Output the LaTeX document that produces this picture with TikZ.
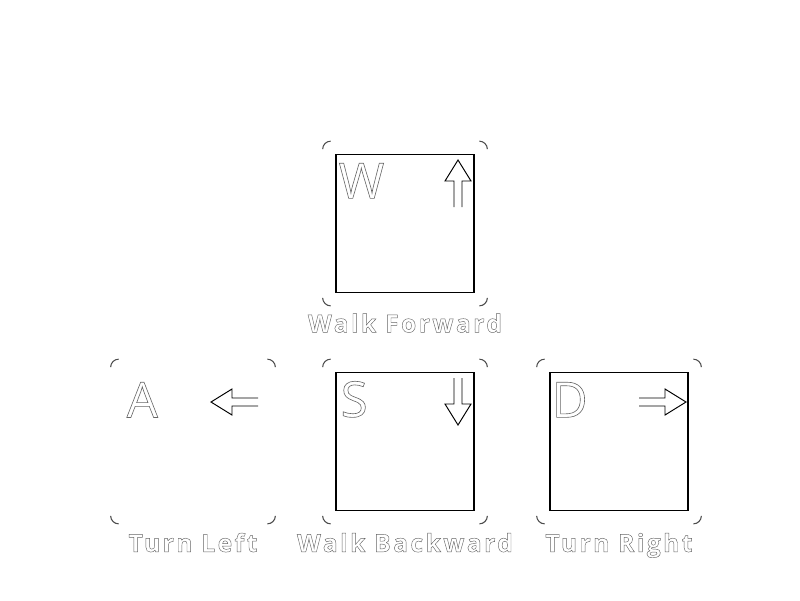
\documentclass[tikz,border=0pt]{standalone}
\usepackage{fontspec}
\setmainfont{Open Sans}
\newfontfamily\labelfont[LetterSpace=10]{Open Sans}
\usetikzlibrary{positioning}

% glyphs drawn as outlines only (text render mode 1)
\newcommand{\outlined}[2][0.35]{\special{pdf:code 1 Tr #1 w}#2\special{pdf:code 0 Tr}}

\tikzset{
    keycap/.style={minimum size=3.28cm, inner sep=0pt},
    keyface/.style={draw, minimum size=2.76cm, inner sep=0pt, line width=0.7pt},
    corner/.style={draw=black!70, line width=0.6pt},
    keyletter/.style={anchor=north west, inner sep=0pt, text=black!60, font=\fontsize{28}{30}\selectfont},
    keytext/.style={anchor=base, inner sep=0pt, text=black!60, font=\labelfont\bfseries\fontsize{14}{16}\selectfont},
    arrowline/.style={draw, line width=0.55pt, line join=miter},
    pics/blockarrow/.style={code={
        \draw[arrowline] (0,-0.08) -- (0.52,-0.08) -- (0.52,-0.26) -- (0.94,0) -- (0.52,0.26) -- (0.52,0.08) -- (0,0.08);
    }}
}

\begin{document}
\begin{tikzpicture}

    \useasboundingbox (0,0) rectangle (16,-12);

    % keys
    \node[keycap] (keyW) at (8.1,-4.47) {};
    \node[keycap] (keyA) at (3.86,-8.83) {};
    \node[keycap] (keyS) at (8.1,-8.83) {};
    \node[keycap] (keyD) at (12.38,-8.83) {};

    \node[keyface] (faceW) at (keyW) {};
    \node[keyface, draw=none] (faceA) at (keyA) {};
    \node[keyface] (faceS) at (keyS) {};
    \node[keyface] (faceD) at (keyD) {};

    % rounded corners of the caps
    \foreach \k in {W,A,S,D} {
        \draw[corner] ([xshift=0.16cm]key\k.north west) arc (90:180:0.16);
        \draw[corner] ([yshift=-0.16cm]key\k.north east) arc (0:90:0.16);
        \draw[corner] ([xshift=-0.16cm]key\k.south east) arc (270:360:0.16);
        \draw[corner] ([yshift=0.16cm]key\k.south west) arc (180:270:0.16);
    }

    % letters
    \node[keyletter] (letterW) at ([shift={(0.06,-0.18)}]faceW.north west) {\outlined{W}};
    \node[keyletter] (letterA) at ([shift={(0.06,-0.2)}]faceA.north west) {\outlined{A}};
    \node[keyletter] (letterS) at ([shift={(0.1,-0.18)}]faceS.north west) {\outlined{S}};
    \node[keyletter] (letterD) at ([shift={(0.04,-0.2)}]faceD.north west) {\outlined{D}};

    % arrows
    \pic[rotate=90] at ([shift={(1.06,0.33)}]keyW.center) {blockarrow};
    \pic[rotate=180] at ([shift={(1.3,0.79)}]keyA.center) {blockarrow};
    \pic[rotate=-90] at ([shift={(1.06,1.27)}]keyS.center) {blockarrow};
    \pic at ([shift={(0.4,0.79)}]keyD.center) {blockarrow};

    % captions
    \node[keytext] (textW) at ([yshift=-0.53cm]keyW.south) {\outlined[0.25]{Walk Forward}};
    \node[keytext] (textA) at ([yshift=-0.56cm]keyA.south) {\outlined[0.25]{Turn Left}};
    \node[keytext] (textS) at ([yshift=-0.56cm]keyS.south) {\outlined[0.25]{Walk Backward}};
    \node[keytext] (textD) at ([yshift=-0.56cm]keyD.south) {\outlined[0.25]{Turn Right}};

\end{tikzpicture}
\end{document}
